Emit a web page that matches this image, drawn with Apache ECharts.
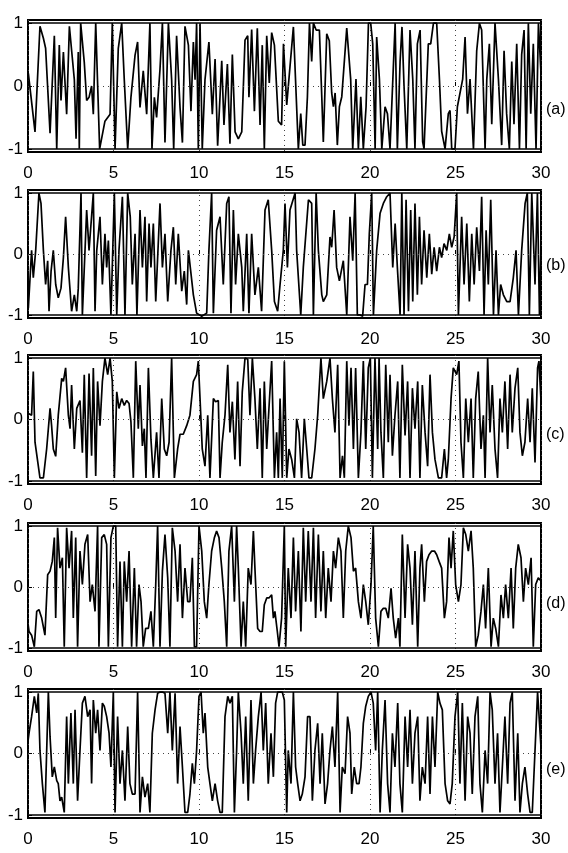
<!DOCTYPE html>
<html>
<head>
<meta charset="utf-8">
<script src="https://cdn.jsdelivr.net/npm/echarts@6/dist/echarts.min.js"></script>
<style>
html,body{margin:0;padding:0;background:#fff;}
#chart{width:568px;height:853px;}
</style>
</head>
<body>
<div id="chart"></div>
<script>
const xTicks = [0, 5, 10, 15, 20, 25, 30];
const yTicks = [-1, 0, 1];
const panelLabels = ['(a)', '(b)', '(c)', '(d)', '(e)'];

const sigA = [[0,0.15],[0.02,0.2],[0.41,-0.73],[0.7,0.95],[0.9,0.76],[1.03,0.6],[1.29,-0.75],[1.54,0.8],[1.68,-1],[1.83,0.65],[1.93,-0.23],[2.07,0.54],[2.26,-0.45],[2.42,0.95],[2.71,0.1],[2.81,-0.84],[2.94,0.54],[3.0,-1],[3.08,1],[3.29,0.38],[3.43,-0.23],[3.57,-0.18],[3.72,0],[3.82,-0.45],[3.96,1],[4.19,-1],[4.5,-0.56],[4.8,-0.45],[4.93,1],[5.09,-1],[5.28,0.6],[5.48,1],[5.63,0.1],[5.83,-1],[6.02,-0.18],[6.26,0.49],[6.41,0.7],[6.55,-0.34],[6.74,0.24],[6.94,-0.45],[7.13,1],[7.25,-1],[7.39,-0.18],[7.52,-0.5],[7.72,0.27],[7.86,1],[8.01,-0.9],[8.21,1],[8.4,0.1],[8.52,-1],[8.69,0.8],[8.89,-0.34],[9.03,-0.9],[9.18,0.95],[9.38,0.65],[9.53,-0.4],[9.67,0.7],[9.77,0.1],[9.86,1],[9.96,-1],[10.06,1],[10.19,-1],[10.35,0.1],[10.58,0.7],[10.78,-0.45],[10.94,0.43],[11.09,-0.95],[11.33,0.4],[11.46,-0.62],[11.66,0.35],[11.81,-0.92],[11.95,0.5],[12.11,-0.73],[12.3,-0.84],[12.5,-0.73],[12.69,0.73],[12.85,0.8],[12.92,-0.18],[13.08,0.9],[13.24,-0.4],[13.41,0.92],[13.57,-0.62],[13.7,0.65],[13.82,-1],[13.96,0.8],[14.11,0.05],[14.25,0.85],[14.41,0.65],[14.64,-0.56],[14.83,-0.62],[14.94,0.67],[15.13,-0.3],[15.52,0.94],[15.81,-1],[15.95,-0.44],[16.07,-0.94],[16.2,-0.94],[16.34,-0.17],[16.46,1],[16.59,0.39],[16.69,1],[16.85,0.89],[17.04,0.89],[17.18,-0.17],[17.27,-0.89],[17.47,0.83],[17.62,0.72],[17.76,-0.11],[17.86,-0.33],[17.96,-0.11],[18.09,-0.94],[18.21,-0.33],[18.35,-0.17],[18.64,0.92],[18.87,0.11],[18.99,-1],[19.18,0.11],[19.32,-1],[19.46,-0.17],[19.61,-1],[19.77,-0.33],[19.91,1],[20.04,1],[20.16,0.67],[20.3,-1],[20.39,0.78],[20.55,0.11],[20.69,-1],[20.88,-0.33],[21.02,-0.44],[21.17,-1],[21.47,1],[21.6,-1],[21.76,0.39],[21.87,0.94],[21.99,0],[22.15,-1],[22.34,0.89],[22.5,0.11],[22.63,-1],[22.77,0.67],[22.93,0.89],[23.08,-0.89],[23.16,-1],[23.41,0.67],[23.55,0.67],[23.71,1],[23.9,1],[24.06,0.11],[24.19,-0.72],[24.39,-1],[24.58,-0.44],[24.68,-0.39],[24.78,-1],[24.97,-1],[25.11,-0.33],[25.42,0.11],[25.56,0.78],[25.7,-0.44],[25.85,0.11],[26.05,-1],[26.24,0.56],[26.4,1],[26.53,0.89],[26.73,-1],[26.83,0.11],[26.98,0.67],[27.12,-0.61],[27.31,1],[27.51,0.11],[27.7,-0.94],[27.84,0.56],[27.99,-0.44],[28.15,-1],[28.29,0.39],[28.42,-0.61],[28.58,0.67],[28.74,-1],[28.87,0.5],[29.01,0.89],[29.13,-1],[29.26,1],[29.4,-0.44],[29.55,0.67],[29.71,-1],[29.85,1],[30,0.2]];

const sigB = [[0,-0.3],[0.02,-0.89],[0.21,0.06],[0.31,-0.39],[0.45,0.06],[0.64,1],[0.76,0.83],[0.9,0.06],[1.03,-0.5],[1.15,-0.11],[1.23,-0.94],[1.35,-0.28],[1.48,0.06],[1.62,-0.5],[1.77,-0.72],[1.93,-0.56],[2.07,-0.06],[2.2,0.61],[2.36,-0.22],[2.55,-0.94],[2.71,-0.67],[2.85,-0.94],[2.94,-0.56],[3.1,1],[3.18,-1],[3.43,0.72],[3.57,0.06],[3.82,1],[3.92,-0.94],[4.02,0.06],[4.21,0.61],[4.35,-0.5],[4.5,0.33],[4.6,-0.22],[4.7,0.22],[4.85,-1],[5.05,1],[5.19,-1],[5.32,0.06],[5.52,0.94],[5.67,-1],[5.83,1],[5.98,0.61],[6.1,-0.5],[6.26,0.33],[6.37,-1],[6.55,0.72],[6.69,-0.22],[6.84,0.61],[6.94,-0.78],[7.08,0.5],[7.19,-0.22],[7.33,0.5],[7.47,-0.78],[7.72,0.83],[7.86,-0.22],[8.01,0.33],[8.17,-0.78],[8.36,0.06],[8.5,0.44],[8.64,-0.5],[8.79,0.33],[8.99,-0.61],[9.14,-0.28],[9.28,-0.83],[9.38,0.06],[9.67,-0.67],[9.86,-0.97],[10.16,-1.02],[10.45,-0.97],[10.58,0.06],[10.74,1],[10.84,-0.97],[11.03,0.39],[11.23,0.61],[11.42,-0.5],[11.62,0.83],[11.75,0.94],[11.87,-0.97],[12.01,0.72],[12.14,-0.5],[12.3,0.33],[12.5,-0.22],[12.59,-0.94],[12.79,0.33],[12.92,-0.97],[13.08,0.33],[13.27,-0.67],[13.47,-0.22],[13.66,-0.94],[13.86,0.72],[14.05,0.89],[14.25,0.06],[14.41,-0.78],[14.6,-0.94],[14.74,-0.5],[14.93,0.06],[15.03,0.83],[15.17,-0.22],[15.32,0.72],[15.62,1],[15.71,0.06],[15.95,-1],[16.1,-0.22],[16.4,0.89],[16.59,0.83],[16.69,-1],[16.85,1],[16.98,0.06],[17.18,-0.67],[17.27,-0.78],[17.47,-0.67],[17.66,0.28],[17.76,0.11],[17.9,0.72],[18.05,-0.22],[18.21,-0.44],[18.44,-0.11],[18.64,-1],[18.83,0.61],[18.99,-0.11],[19.13,1],[19.26,-1],[19.42,-1],[19.57,-1.02],[19.71,-0.5],[19.85,-0.5],[19.96,0.33],[20.1,1],[20.2,-1],[20.39,0.06],[20.59,0.67],[20.78,0.83],[20.98,0.94],[21.17,1],[21.33,-0.22],[21.47,0.5],[21.6,-0.22],[21.76,-1],[21.86,1],[21.99,-1],[22.11,0.89],[22.25,-0.94],[22.38,0.72],[22.5,-0.78],[22.63,0.83],[22.77,-0.67],[22.89,0.61],[23.02,-0.5],[23.16,0.39],[23.32,-0.39],[23.47,0.33],[23.61,-0.33],[23.75,0.11],[23.9,-0.28],[24.06,0.11],[24.19,-0.06],[24.33,0.17],[24.49,0.06],[24.64,0.33],[24.78,0.11],[24.92,0.28],[25.07,1],[25.17,-1],[25.36,0.61],[25.5,-0.5],[25.66,0.5],[25.81,-0.78],[25.95,0.33],[26.09,-0.5],[26.24,0.44],[26.4,-0.28],[26.53,0.94],[26.67,-1],[26.79,0.39],[26.92,-0.5],[27.06,0.89],[27.22,-1],[27.37,0.06],[27.51,-1],[27.64,-0.5],[27.8,-0.67],[28.0,-0.78],[28.19,-0.78],[28.38,-0.39],[28.54,0.06],[28.68,-1],[28.87,0.06],[29.07,0.83],[29.2,1],[29.32,-1],[29.46,1],[29.65,-0.5],[29.79,1],[29.91,-1],[30,0.1]];

const sigC = [[0,0.1],[0.06,0.07],[0.21,0.07],[0.31,0.78],[0.41,-0.37],[0.7,-0.95],[0.9,-0.95],[1.09,-0.48],[1.29,0.18],[1.38,-0.1],[1.48,-0.48],[1.62,-0.6],[1.77,0.07],[1.97,0.67],[2.07,0.62],[2.2,0.84],[2.36,0.07],[2.46,-0.15],[2.55,0.56],[2.71,-0.48],[2.85,0.18],[3.04,0.31],[3.18,-0.54],[3.29,0.73],[3.43,-0.95],[3.57,0.75],[3.72,-0.59],[3.82,0.84],[3.96,-0.92],[4.07,0.62],[4.21,-0.1],[4.35,0.62],[4.5,1],[4.66,0.73],[4.8,1],[4.93,0.62],[5.05,-0.95],[5.19,0.45],[5.32,0.18],[5.48,0.34],[5.63,0.23],[5.77,0.31],[5.91,0.26],[6.02,-0.04],[6.16,-0.95],[6.3,0.95],[6.45,-0.15],[6.55,0.56],[6.69,-0.43],[6.8,-0.15],[6.9,-0.95],[7.04,0.84],[7.19,-0.32],[7.33,-0.95],[7.52,-0.21],[7.66,-0.95],[7.82,0.34],[7.97,-0.48],[8.11,-0.59],[8.25,-0.37],[8.4,1],[8.56,-0.95],[8.75,-0.48],[8.89,-0.24],[9.08,-0.24],[9.28,-0.1],[9.47,0.07],[9.67,0.62],[9.86,0.73],[9.96,0.95],[10.06,0.34],[10.19,-0.48],[10.35,-0.76],[10.51,0.07],[10.64,-0.95],[10.84,0.34],[10.97,0.29],[11.13,0.31],[11.23,-0.95],[11.36,-0.37],[11.52,0.07],[11.68,0.89],[11.81,-0.21],[11.95,0.29],[12.1,-0.65],[12.26,0.62],[12.4,-0.76],[12.53,0.45],[12.69,1],[12.85,0.98],[12.98,0.07],[13.12,1],[13.27,0.34],[13.41,-0.48],[13.57,0.51],[13.7,-0.95],[13.82,0.62],[13.96,-0.48],[14.09,0.18],[14.25,0.95],[14.41,-0.95],[14.54,-0.21],[14.64,-0.95],[14.74,0.34],[14.87,-0.95],[14.99,0.95],[15.13,-0.95],[15.26,-0.48],[15.42,-0.65],[15.58,-0.95],[15.71,0.01],[15.85,-0.21],[16.0,-0.95],[16.16,0.01],[16.3,-0.48],[16.43,-0.95],[16.59,-0.95],[16.78,-0.48],[16.94,0.07],[17.13,1],[17.27,0.34],[17.47,0.62],[17.66,1],[17.8,0.34],[17.95,-0.21],[18.11,0.89],[18.25,-0.95],[18.39,-0.59],[18.5,-0.95],[18.64,0.95],[18.77,-0.1],[18.89,0.84],[19.03,-0.48],[19.16,0.84],[19.32,-0.95],[19.47,-0.21],[19.61,0.95],[19.75,-0.48],[19.9,0.84],[20.02,1],[20.14,-0.95],[20.29,1],[20.45,-0.48],[20.53,1],[20.64,-0.21],[20.78,-0.95],[20.92,0.89],[21.07,-0.37],[21.17,0.73],[21.31,-0.59],[21.46,0.07],[21.62,0.62],[21.75,-0.95],[21.89,0.89],[22.05,-0.26],[22.2,0.62],[22.34,-0.95],[22.48,0.51],[22.63,-0.15],[22.79,0.62],[22.92,-0.95],[23.06,0.56],[23.22,-0.21],[23.37,-0.76],[23.51,0.73],[23.65,-0.21],[23.8,-0.65],[24.0,-0.95],[24.19,-0.95],[24.35,-0.48],[24.48,-0.95],[24.58,-0.65],[24.74,0.34],[24.87,0.84],[25.07,0.73],[25.2,0.95],[25.32,-0.37],[25.46,-0.95],[25.6,0.34],[25.75,-0.37],[25.91,0.34],[26.04,-0.95],[26.18,0.34],[26.33,0.78],[26.49,-0.48],[26.63,0.07],[26.73,-0.95],[26.88,1],[27.02,-0.21],[27.15,0.56],[27.31,-0.48],[27.46,-0.95],[27.6,0.34],[27.74,-0.21],[27.89,0.62],[28.05,-0.48],[28.19,0.73],[28.32,-0.21],[28.48,0.51],[28.64,0.84],[28.77,-0.21],[28.91,-0.59],[29.06,-0.37],[29.22,0.34],[29.36,-0.37],[29.49,0.51],[29.65,-0.7],[29.8,0.84],[29.88,0.95],[30,0.3]];

const sigD = [[0,-0.6],[0.06,-0.73],[0.21,-0.79],[0.37,-0.98],[0.51,-0.4],[0.64,-0.37],[0.8,-0.51],[0.99,-0.79],[1.15,0.2],[1.29,0.26],[1.42,0.42],[1.54,0.81],[1.62,-0.51],[1.73,0.97],[1.87,0.31],[2.01,0.48],[2.12,-0.98],[2.26,0.97],[2.4,0.31],[2.55,0.92],[2.65,-0.51],[2.79,0.81],[2.9,-0.98],[3.04,0.59],[3.18,0.04],[3.33,0.7],[3.49,0.86],[3.63,-0.24],[3.76,0.04],[3.92,-0.4],[4.07,1],[4.15,-0.98],[4.31,0.81],[4.46,0.86],[4.6,0.7],[4.7,-0.98],[4.85,0.81],[4.99,1],[5.13,1],[5.24,-0.98],[5.38,0.42],[5.52,-0.98],[5.63,0.42],[5.77,-0.24],[5.91,0.59],[6.06,-0.98],[6.22,0.31],[6.35,-0.98],[6.49,0.04],[6.61,-0.24],[6.74,-0.98],[6.88,-0.68],[7.04,-0.68],[7.19,-0.4],[7.33,-0.98],[7.47,0.04],[7.58,1],[7.72,-0.98],[7.86,0.26],[8.01,0.86],[8.17,0.15],[8.3,-0.98],[8.44,0.97],[8.6,0.59],[8.75,-0.24],[8.89,0.7],[9.03,-0.51],[9.18,0.31],[9.34,-0.24],[9.47,-0.24],[9.61,0.48],[9.73,-0.98],[9.86,-0.98],[10.0,1],[10.16,0.59],[10.31,-0.24],[10.45,-0.51],[10.58,0.04],[10.74,0.59],[10.9,0.81],[11.03,0.92],[11.17,0.81],[11.33,0.31],[11.48,-0.24],[11.62,-0.98],[11.75,0.59],[11.91,1],[12.07,-0.24],[12.2,1],[12.3,0.31],[12.46,-0.98],[12.59,-0.24],[12.73,-0.98],[12.88,0.31],[13.04,0.04],[13.18,0.92],[13.27,0.31],[13.43,-0.68],[13.57,-0.73],[13.7,-0.73],[13.82,-0.29],[13.96,-0.18],[14.09,-0.18],[14.25,-0.13],[14.35,-0.51],[14.44,-0.4],[14.58,-0.73],[14.68,-0.98],[14.83,-0.51],[14.99,1],[15.07,-0.98],[15.22,0.31],[15.38,-0.51],[15.52,0.81],[15.65,-0.4],[15.81,0.59],[15.96,-0.73],[16.1,0.97],[16.24,-0.24],[16.39,0.92],[16.55,-0.24],[16.69,0.97],[16.82,-0.51],[16.98,0.86],[17.13,-0.4],[17.27,0.59],[17.41,-0.51],[17.56,0.31],[17.72,-0.24],[17.86,0.59],[17.99,0.31],[18.15,0.81],[18.3,0.59],[18.44,-0.51],[18.58,0.59],[18.73,1],[18.89,0.81],[19.03,0.26],[19.16,0.31],[19.32,-0.24],[19.47,-0.51],[19.61,0.04],[19.75,-0.24],[19.9,-0.62],[20.06,0.04],[20.19,1],[20.33,-0.51],[20.49,-0.98],[20.64,-0.4],[20.78,-0.35],[20.92,-0.35],[21.07,-0.51],[21.23,-0.02],[21.36,-0.51],[21.5,-0.84],[21.66,-0.51],[21.75,-0.98],[21.89,0.86],[22.05,-0.51],[22.2,0.7],[22.34,0.31],[22.48,-0.62],[22.63,0.59],[22.79,-0.98],[22.92,0.31],[23.02,0.7],[23.18,-0.24],[23.31,0.42],[23.45,0.53],[23.61,0.59],[23.77,0.59],[23.9,0.53],[24.04,0.42],[24.19,0.31],[24.35,-0.51],[24.48,-0.24],[24.62,0.81],[24.74,0.31],[24.87,0.92],[25.01,0.04],[25.17,-0.24],[25.32,0.04],[25.46,0.97],[25.6,0.86],[25.75,0.59],[25.91,0.92],[26.04,0.31],[26.18,-0.98],[26.33,-0.79],[26.49,-0.4],[26.63,0.04],[26.76,-0.68],[26.92,0.31],[27.08,-0.98],[27.21,-0.51],[27.35,-0.68],[27.51,-0.98],[27.66,-0.13],[27.8,-0.51],[27.93,0.04],[28.09,-0.51],[28.25,0.31],[28.38,-0.68],[28.52,0.31],[28.67,0.7],[28.83,0.48],[28.97,-0.24],[29.1,0.31],[29.26,0.04],[29.42,0.48],[29.55,-0.98],[29.69,0.04],[29.84,0.15],[30,0.1]];

const sigE = [[0,0.2],[0.06,0.33],[0.21,0.6],[0.37,0.93],[0.51,0.66],[0.6,0.98],[0.7,0.05],[0.84,-0.49],[0.99,-0.96],[1.09,-0.98],[1.19,1],[1.29,0.27],[1.42,-0.38],[1.54,-0.22],[1.68,-0.44],[1.77,-0.49],[1.87,-0.77],[1.97,-0.71],[2.12,-0.96],[2.26,0.6],[2.36,-0.49],[2.51,0.66],[2.65,-0.49],[2.75,0.71],[2.9,-0.77],[3.04,0.05],[3.18,0.82],[3.33,0.93],[3.49,0.6],[3.63,0.71],[3.72,-0.49],[3.82,0.87],[3.96,0.33],[4.07,0.71],[4.21,0.05],[4.35,0.82],[4.46,0.77],[4.6,0.6],[4.74,0.33],[4.85,-0.22],[4.99,1],[5.09,-0.96],[5.24,0.6],[5.38,-0.49],[5.52,0.05],[5.67,-0.77],[5.83,0.44],[5.96,-0.49],[6.1,-0.66],[6.26,-0.66],[6.41,1],[6.55,-0.96],[6.69,-0.38],[6.84,-0.71],[7.0,-0.49],[7.13,-0.96],[7.27,0.33],[7.43,0.71],[7.58,0.98],[7.72,1],[7.86,1],[8.01,0.98],[8.17,0.33],[8.3,1],[8.44,0.05],[8.6,0.98],[8.75,-0.49],[8.89,0.44],[9.03,-0.22],[9.18,-0.96],[9.34,-0.96],[9.47,-0.66],[9.61,-0.16],[9.73,-0.49],[9.86,0.05],[10.0,0.93],[10.12,1],[10.25,0.33],[10.35,0.66],[10.51,-0.22],[10.64,-0.49],[10.78,-0.77],[10.94,-0.49],[11.09,-0.77],[11.23,-0.96],[11.36,-0.96],[11.52,0.6],[11.68,0.93],[11.81,0.82],[11.95,0.93],[12.07,-0.96],[12.2,0.05],[12.3,1],[12.46,0.33],[12.59,-0.49],[12.73,0.6],[12.88,-0.77],[13.04,0.87],[13.18,-0.49],[13.31,0.05],[13.47,0.6],[13.63,1],[13.76,0.05],[13.9,0.82],[14.05,-0.49],[14.21,0.33],[14.35,-0.38],[14.48,0.82],[14.6,1],[14.74,1],[14.87,1],[14.99,0.87],[15.13,-0.96],[15.22,0.05],[15.38,-0.49],[15.52,1],[15.65,-0.22],[15.77,-0.49],[15.91,-0.77],[16.04,-0.66],[16.2,-0.38],[16.35,0.6],[16.49,0.6],[16.63,-0.77],[16.78,0.05],[16.94,0.49],[17.08,-0.49],[17.21,0.33],[17.37,-0.82],[17.52,-0.49],[17.66,0.05],[17.8,0.44],[17.95,-0.22],[18.11,1],[18.25,-0.96],[18.38,-0.22],[18.54,-0.33],[18.69,0.6],[18.83,0.33],[18.93,-0.66],[19.08,-0.22],[19.22,-0.49],[19.36,-0.49],[19.47,-0.22],[19.61,0.49],[19.75,0.77],[19.9,0.93],[20.06,1],[20.19,0.82],[20.33,0.05],[20.45,1],[20.59,-0.96],[20.72,0.05],[20.88,0.87],[21.03,-0.49],[21.17,-0.96],[21.31,0.33],[21.46,-0.22],[21.62,0.82],[21.75,-0.49],[21.89,-0.96],[22.05,0.6],[22.2,-0.22],[22.34,0.71],[22.48,-0.49],[22.63,0.33],[22.79,0.6],[22.92,-0.77],[23.06,-0.22],[23.22,-0.49],[23.37,0.6],[23.51,-0.66],[23.65,0.6],[23.8,-0.22],[23.96,1],[24.09,0.82],[24.23,0.71],[24.39,-0.49],[24.54,-0.77],[24.68,-0.82],[24.81,-0.49],[24.97,0.6],[25.13,1],[25.26,-0.49],[25.4,0.82],[25.56,-0.77],[25.71,0.6],[25.85,0.33],[25.98,-0.66],[26.14,0.6],[26.3,0.93],[26.43,-0.49],[26.57,-0.96],[26.73,0.05],[26.88,-0.49],[27.02,1],[27.15,0.71],[27.31,-0.49],[27.46,0.33],[27.6,-0.96],[27.74,-0.22],[27.89,0.6],[28.05,-0.49],[28.19,0.82],[28.32,1],[28.48,-0.77],[28.64,0.33],[28.77,-0.96],[28.91,-0.49],[29.06,-0.22],[29.22,-0.66],[29.36,-0.96],[29.49,-0.96],[29.65,0.05],[29.8,1],[30,0.1]];

const signals = [sigA, sigB, sigC, sigD, sigE];
const tops = [20, 190, 355, 523, 689];
const heights = [132, 128, 129, 128, 129];
const labelY = [112, 268, 437, 606, 772];

const FONT = "'Liberation Sans Narrow', 'Liberation Sans', Arial, sans-serif";

const grids = [], xAxes = [], yAxes = [], series = [], graphics = [];
signals.forEach((sig, i) => {
  grids.push({left: 28, width: 513, top: tops[i], height: heights[i],
    show: true, borderColor: '#000', borderWidth: 2, backgroundColor: '#fff'});
  xAxes.push({type: 'value', gridIndex: i, min: xTicks[0], max: xTicks[xTicks.length-1], interval: 5,
    axisLine: {show: false},
    axisTick: {show: true, inside: true, length: 4, lineStyle: {color: '#000'}},
    axisLabel: {color: '#000', fontFamily: FONT, fontSize: 17, margin: 13,
      formatter: v => xTicks.indexOf(v) >= 0 ? String(v) : ''},
    splitLine: {show: true, lineStyle: {color: '#444', type: [1, 4], width: 1}}});
  yAxes.push({type: 'value', gridIndex: i, min: -1.05, max: 1.05,
    axisLine: {show: false},
    axisTick: {show: true, inside: true, length: 4, customValues: yTicks, lineStyle: {color: '#000'}},
    axisLabel: {color: '#000', fontFamily: FONT, fontSize: 17, margin: 5, customValues: yTicks},
    splitLine: {show: false}});
  series.push({type: 'line', xAxisIndex: i, yAxisIndex: i, data: sig, showSymbol: false,
    lineStyle: {color: '#000', width: 1.7}, clip: true, animation: false,
    markLine: {silent: true, symbol: 'none', animation: false, label: {show: false},
      data: [
        {yAxis: 0, lineStyle: {color: '#444', type: [1, 4], width: 1}},
        {yAxis: 1, lineStyle: {color: '#000', type: 'solid', width: 1.5}},
        {yAxis: -1, lineStyle: {color: '#000', type: 'solid', width: 1.5}}
      ]}});
  graphics.push({type: 'text', left: 546, top: labelY[i] - 10,
    style: {text: panelLabels[i], fill: '#000', font: "16px " + FONT}});
});

const chart = echarts.init(document.getElementById('chart'), null, {renderer: 'canvas'});
chart.setOption({
  backgroundColor: '#fff',
  animation: false,
  grid: grids, xAxis: xAxes, yAxis: yAxes, series: series, graphic: graphics
});
</script>
</body>
</html>
